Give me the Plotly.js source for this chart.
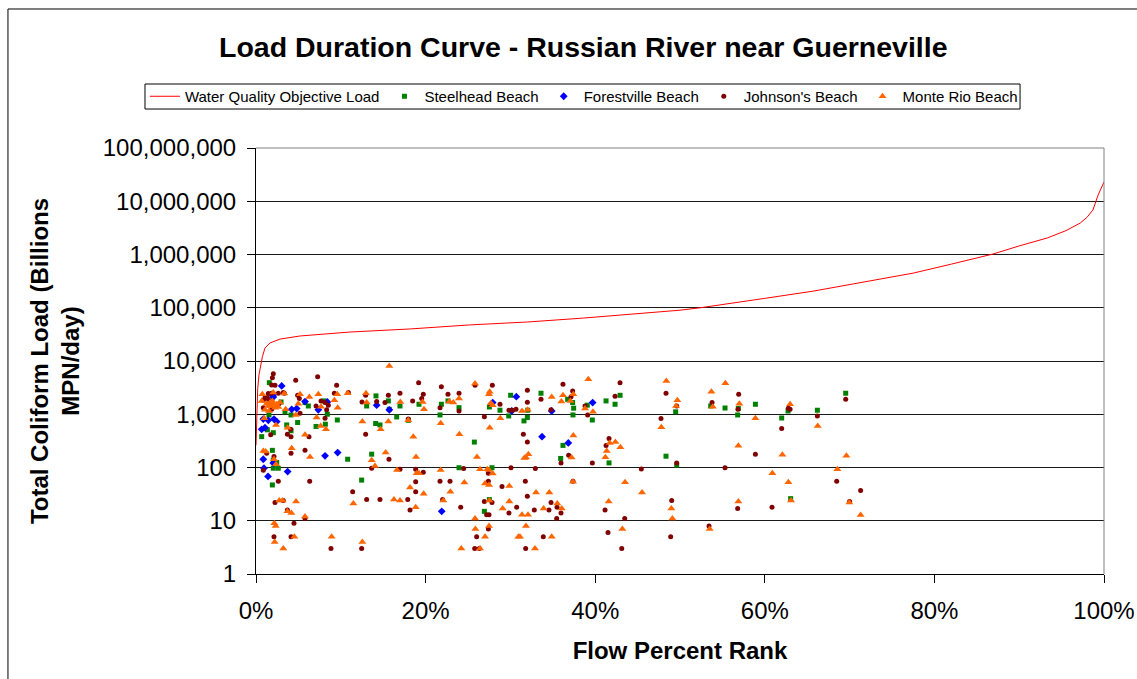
<!DOCTYPE html>
<html>
<head>
<meta charset="utf-8">
<script src="https://cdn.plot.ly/plotly-3.0.1.min.js"></script>
<style>
html,body{margin:0;padding:0;background:#fff;overflow:hidden;}
#chart{width:1137px;height:679px;}
</style>
</head>
<body>
<div id="chart"></div>
<script>
// ---- Water Quality Objective Load curve (Flow Percent Rank %, load) ----
const wqoX = [0, 0.05, 0.1, 0.2, 0.35, 0.55, 0.75, 1.06, 1.65, 2.83, 5.2, 11.1, 18.2, 25.2, 32, 38.6, 46.5, 50, 52.4, 53.9, 60, 65.7, 70, 77.5, 82, 86.9, 90, 93.3, 95.5, 97.2, 98.0, 98.7, 99.3, 99.7, 100];
const wqoY = [260, 700, 1600, 3000, 5500, 8400, 12000, 17500, 21800, 25800, 29500, 35000, 40000, 47600, 54000, 64000, 80000, 90000, 100000, 108000, 150000, 205000, 270000, 447000, 660000, 1020000, 1450000, 2040000, 2800000, 3900000, 5000000, 6900000, 13000000, 18000000, 23000000];

// ---- Steelhead Beach ----
const steelX = [1.57,2.95,3.42,5.78,6.17,8.02,14.15,13.05,15.61,15.72,16.98,19.22,4.13,8.41,9.59,14.11,14.62,16.59,17.96,1.53,3.62,4.13,4.91,7.08,8.18,1.34,2.04,0.67,1.93,2.04,2.44,2.04,2.63,10.81,13.64,1.93,12.46,
  22.64,23.94,21.86,27.52,28.77,29.8,30.03,32.04,32.0,31.6,33.61,36.75,37.34,37.46,37.38,39.07,39.66,21.7,25.75,36.2,35.93,23.94,27.83,27.52,26.93,
  42.93,41.28,42.34,49.49,53.62,55.31,56.88,56.8,58.89,62.74,61.99,66.2,69.54,41.63,48.35,49.61,63.05];
const steelY = [3920,1700,1110,1660,1430,1780,2210,1430,1780,1240,1430,1540,970,1000,780,670,630,890,770,970,630,490,700,590,650,510,450,380,210,137,124,97,97,143,178,47,58,
  1780,1330,1540,1370,1190,930,2270,1190,870,750,2480,1910,1660,1300,970,1480,780,970,300,260,148,99,99,25,15,
  2270,1780,1540,1110,1430,1310,1280,970,1540,1150,850,1190,2480,122,163,111,26];

// ---- Forestville Beach ----
const forestX = [3.03,1.97,2.04,5.78,8.41,14.23,4.21,4.8,7.35,15.72,0.86,1.45,2.12,2.44,0.67,1.06,0.86,2.04,0.94,3.73,1.42,8.14,9.63,30.7,30.15,34.87,39.7,27.91,33.73,36.83,21.9];
const forestY = [3400,2270,2110,1730,1700,1480,1240,1280,1210,1210,810,770,810,730,520,560,143,121,97,84,68,166,191,2140,1150,1150,1660,1660,380,290,15];

// ---- Johnson's Beach ----
const johnX = [2.04,1.93,7.27,4.68,19.18,2.24,9.51,1.85,1.45,1.85,2.63,3.34,3.22,4.91,9.24,10.89,12.93,15.61,16.98,19.73,19.54,18.47,14.23,12.5,15.21,0.86,1.06,1.34,1.45,2.71,1.85,0.86,5.11,7.08,8.14,8.53,7.67,8.33,5.19,8.14,17.96,4.09,6.25,3.7,4.13,1.73,12.93,1.26,2.12,0.86,4.13,5.78,13.64,15.68,2.63,6.33,16.98,18.83,19.73,18.83,18.83,11.4,13.05,14.62,17.89,18.16,2.24,3.22,3.7,5.78,4.48,2.12,4.13,8.84,12.46,
  21.86,25.83,27.87,22.64,23.94,23.94,21.7,27.67,28.77,26.93,29.83,30.23,30.66,32.0,32.0,31.53,32.0,33.61,36.2,37.34,37.15,34.79,38.8,39.11,36.87,35.97,39.66,24.49,27.4,30.07,32.94,21.7,22.88,27.4,29.01,31.76,37.38,22.01,32.0,26.93,27.83,34.79,24.14,30.74,29.83,32.82,34.55,35.5,35.97,27.2,27.48,35.46,27.4,26.02,33.88,25.79,26.34,31.8,
  42.93,48.35,56.92,42.34,49.61,53.78,56.84,62.78,62.98,61.99,66.2,69.54,47.76,41.63,41.28,58.89,49.61,45.44,55.31,68.48,41.16,49.02,56.8,60.85,43.48,41.51,48.9,53.42,43.13,71.3,70.0];
const johnY = [5790,4870,5080,4340,3920,3500,3500,3550,2440,2480,2480,2480,2550,2270,2480,2550,2270,2270,2480,2370,1970,1780,1730,1700,1660,1830,2050,2050,1910,1580,1240,1330,1970,1430,1660,1480,1780,1210,1040,840,810,520,380,420,380,410,420,186,161,89,186,210,97,143,55,55,93,93,81,54,35,35,25,25,25,16,22,24,16,11,9,5,5,3,3,
  3300,3500,3500,2370,2480,1150,1330,1540,1540,900,1190,1190,1240,2820,1680,420,300,1910,3650,2740,2140,1210,1430,970,170,122,122,96,78,99,96,55,55,55,44,55,55,25,29,23,22,22,18,18,14,16,16,18,14,13,13,11,7,5,5,3,3,3,
  3920,2480,2370,2180,1430,1660,1240,1300,1240,540,930,1910,830,350,260,178,121,94,99,55,16,24,17,18,11,6,5,8,3,37,23];

// ---- Monte Rio Beach ----
const monteX = [15.72,0.75,2.04,3.34,5.19,6.29,7.35,9.59,10.81,12.97,13.05,17.02,19.65,19.81,0.67,1.65,1.93,2.44,2.63,2.24,1.45,1.06,3.5,4.99,7.67,9.24,9.63,4.68,7.15,12.54,14.7,15.61,17.96,0.98,2.36,3.73,5.78,7.63,8.25,18.55,0.86,1.14,2.12,2.36,4.21,6.37,13.64,14.03,15.29,18.87,16.63,18.95,19.22,18.16,19.77,11.48,16.27,16.98,18.83,2.75,3.14,4.72,3.7,4.17,5.78,2.16,2.32,4.52,8.92,2.2,3.22,12.54,1.26,1.73,2.04,2.83,1.53,
  25.83,23.94,22.8,23.27,27.56,27.48,27.71,27.91,28.81,31.37,32.04,32.12,31.64,31.84,34.87,36.01,36.2,37.42,37.07,39.19,38.8,39.74,21.78,23.98,27.56,26.06,37.42,37.22,21.78,26.42,27.28,27.48,27.91,24.57,27.01,27.48,29.87,37.38,22.92,22.09,33.02,34.59,27.52,29.87,35.53,29.09,33.92,36.05,31.37,32.08,25.83,25.87,27.48,27.01,31.84,30.94,31.13,34.87,24.21,26.42,32.9,
  48.39,55.35,53.7,49.69,49.53,53.86,57.0,58.89,62.98,66.24,47.8,41.71,42.38,42.97,41.36,41.2,56.88,62.07,69.62,68.56,60.89,62.78,43.52,45.52,41.59,48.98,56.88,63.09,69.97,49.1,43.2,53.5,71.3];
const monteY = [8060,2370,2550,2440,2370,2110,2370,2370,2480,2480,1660,1700,1700,1240,1780,1660,1780,1540,1370,1330,1430,1210,1240,1580,1390,1830,1330,970,870,730,520,730,770,840,630,560,410,600,520,380,205,200,143,115,230,158,137,107,191,158,90,78,78,42,32,21,25,24,18,24,24,23,15,14,12,9,8,5,5,4,3,4,1580,1430,1580,1660,1150,
  3760,1970,1730,1660,2660,2370,1610,1480,840,1150,1210,178,150,154,2110,1730,2270,2370,1780,4530,1280,1110,680,420,560,158,400,154,90,93,93,90,77,52,50,47,45,54,35,24,34,34,24,23,21,17,17,17,13,13,11,7,8,5,8,5,5,5,3,3,3,
  4220,3820,2660,1830,1430,1390,1580,840,1540,600,570,290,300,240,205,156,255,173,166,93,78,53,53,34,23,17,23,24,22,11,7,7,12.8];

// ---- Axis tick labels ----
const xTickVals = [0, 20, 40, 60, 80, 100];
const xTickText = ['0%', '20%', '40%', '60%', '80%', '100%'];
const yTickVals = [1, 10, 100, 1000, 10000, 100000, 1000000, 10000000, 100000000];
const yTickText = ['1', '10', '100', '1,000', '10,000', '100,000', '1,000,000', '10,000,000', '100,000,000'];

const FONT = 'Liberation Sans, Arial, Helvetica, sans-serif';

const traces = [
  {x: wqoX, y: wqoY, name: 'Water Quality Objective Load', mode: 'lines',
   line: {color: '#ff0000', width: 1}},
  {x: steelX, y: steelY, name: 'Steelhead Beach', mode: 'markers',
   marker: {symbol: 'square', color: '#008000', size: 5}},
  {x: forestX, y: forestY, name: 'Forestville Beach', mode: 'markers',
   marker: {symbol: 'diamond', color: '#0000ff', size: 6}},
  {x: johnX, y: johnY, name: "Johnson's Beach", mode: 'markers',
   marker: {symbol: 'circle', color: '#800000', size: 5}},
  {x: monteX, y: monteY, name: 'Monte Rio Beach', mode: 'markers',
   marker: {symbol: 'triangle-up', color: '#ff6600', size: 7}}
];

const layout = {
  width: 1137, height: 679,
  margin: {l: 256, r: 33, t: 148, b: 105, pad: 0},
  paper_bgcolor: '#ffffff', plot_bgcolor: '#ffffff',
  font: {family: FONT, color: '#000'},
  showlegend: true,
  title: {text: '<b>Load Duration Curve - Russian River near Guerneville</b>',
          font: {size: 28.5, family: FONT, color: '#000'},
          x: 0.513, xanchor: 'center', xref: 'container',
          y: 1 - 47/679, yanchor: 'middle', yref: 'container'},
  legend: {orientation: 'h', x: -0.131, xanchor: 'left', y: 1.1596, yanchor: 'top',
           bgcolor: 'rgba(0,0,0,0)', borderwidth: 0,
           font: {size: 15, family: FONT, color: '#000'}, itemwidth: 30, tracegroupgap: 0},
  xaxis: {range: [0, 100], tickvals: xTickVals, ticktext: xTickText,
          ticks: 'outside', ticklen: 8, tickcolor: '#000', tickwidth: 1,
          ticklabelstandoff: 7,
          showline: true, linecolor: '#000', linewidth: 1, mirror: false,
          showgrid: false, zeroline: false,
          tickfont: {size: 24, family: FONT, color: '#000'},
          title: {text: '<b>Flow Percent Rank</b>', font: {size: 24, family: FONT, color: '#000'}, standoff: 19}},
  yaxis: {type: 'log', range: [0, 8], tickvals: yTickVals, ticktext: yTickText,
          ticks: 'outside', ticklen: 8, tickcolor: '#000', tickwidth: 1,
          ticklabelstandoff: 6,
          showline: true, linecolor: '#000', linewidth: 1,
          showgrid: true, gridcolor: '#1a1a1a', gridwidth: 1, zeroline: false,
          tickfont: {size: 24, family: FONT, color: '#000'},
          title: {text: '<b>Total Coliform Load (Billions<br>MPN/day)</b>', font: {size: 24, family: FONT, color: '#000'}, standoff: 16}},
  shapes: [
    {type: 'line', xref: 'paper', yref: 'paper', x0: 1, x1: 1, y0: 0, y1: 1, line: {color: '#808080', width: 1}},
    {type: 'line', xref: 'paper', yref: 'paper', x0: 0, x1: 1, y0: 1, y1: 1, line: {color: '#808080', width: 1}},
    {type: 'line', xref: 'paper', yref: 'paper', x0: -0.2925, x1: -0.2925, y0: -1, y1: 1.3263, line: {color: '#000', width: 1}},
    {type: 'line', xref: 'paper', yref: 'paper', x0: -0.2925, x1: 2, y0: 1.3263, y1: 1.3263, line: {color: '#000', width: 1}},
    {type: 'rect', xref: 'paper', yref: 'paper', x0: -0.1309, x1: 0.901, y0: 1.0915, y1: 1.1502, line: {color: '#000', width: 1}, fillcolor: 'rgba(0,0,0,0)'}
  ]
};

Plotly.newPlot('chart', traces, layout, {staticPlot: true, displayModeBar: false});
</script>
</body>
</html>
